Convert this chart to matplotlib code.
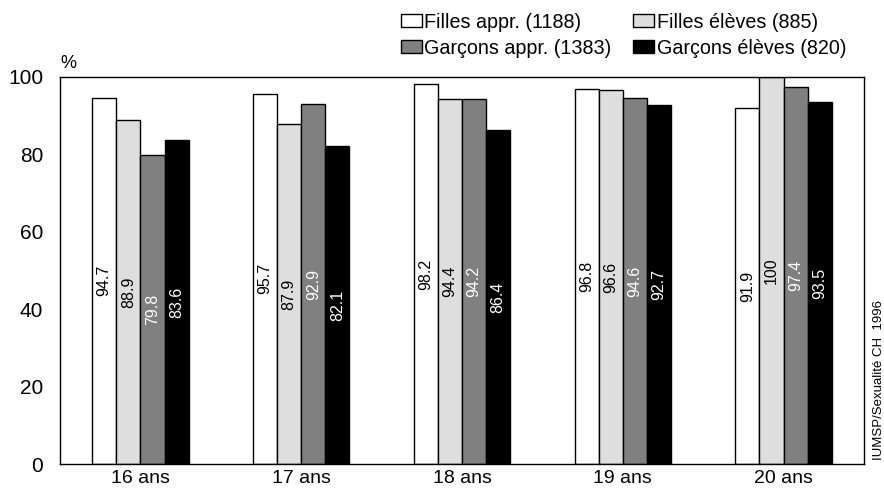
import matplotlib
matplotlib.use("Agg")
import matplotlib.pyplot as plt
from matplotlib.patches import Patch
import numpy as np

plt.rcParams['font.family'] = ['Liberation Sans', 'DejaVu Sans']

ages = ["16 ans", "17 ans", "18 ans", "19 ans", "20 ans"]
series = ["Filles appr. (1188)", "Filles élèves (885)",
          "Garçons appr. (1383)", "Garçons élèves (820)"]
filles_appr = [94.7, 95.7, 98.2, 96.8, 91.9]
filles_eleves = [88.9, 87.9, 94.4, 96.6, 100]
garcons_appr = [79.8, 92.9, 94.2, 94.6, 97.4]
garcons_eleves = [83.6, 82.1, 86.4, 92.7, 93.5]
values = [filles_appr, filles_eleves, garcons_appr, garcons_eleves]
labels = [["94.7", "95.7", "98.2", "96.8", "91.9"],
          ["88.9", "87.9", "94.4", "96.6", "100"],
          ["79.8", "92.9", "94.2", "94.6", "97.4"],
          ["83.6", "82.1", "86.4", "92.7", "93.5"]]

colors = ["white", "#dedede", "#808080", "black"]
text_colors = ["black", "black", "white", "white"]

fig = plt.figure(figsize=(8.84, 4.88), dpi=100)
ax = fig.add_axes([60 / 884, 24 / 488, 804 / 884, 387 / 488])

x = np.arange(len(ages))
w = 0.15
for i, (vals, col, tc) in enumerate(zip(values, colors, text_colors)):
    xs = x + (i - 1.5) * w
    ax.bar(xs, vals, width=w, color=col, edgecolor="black", linewidth=1.0)
    for xi, v, lab in zip(xs, vals, labels[i]):
        ax.text(xi, v / 2, lab, rotation=90, ha="center", va="center",
                color=tc, fontsize=11.5)

ax.set_xlim(-0.5, len(ages) - 0.5)
ax.set_ylim(0, 100)
ax.set_yticks([0, 20, 40, 60, 80, 100])
ax.set_xticks(x)
ax.set_xticklabels(ages)
ax.tick_params(axis="y", length=0, labelsize=15, pad=12)
ax.tick_params(axis="x", length=0, labelsize=14, pad=4)
for s in ax.spines.values():
    s.set_linewidth(1.0)

fig.text(60 / 884, 1 - 64 / 488, "%", fontsize=13, ha="left", va="center")
fig.text(879 / 884, 1 - 380 / 488, "IUMSP/Sexualité CH  1996", rotation=90,
         ha="center", va="center", fontsize=9.5)

# legend filled row by row: reorder for column-major filling
handles = [Patch(facecolor=c, edgecolor="black", linewidth=1.0) for c in colors]
order = [0, 2, 1, 3]
fig.legend([handles[k] for k in order], [series[k] for k in order], ncol=2,
           loc="upper left", bbox_to_anchor=(387 / 884, 1 + 1 / 488),
           frameon=False, fontsize=14.2, handlelength=1.05, handleheight=0.65,
           handletextpad=0.15, columnspacing=1.1, labelspacing=0.35,
           borderpad=0.2)

fig.savefig("out.png", dpi=100)
